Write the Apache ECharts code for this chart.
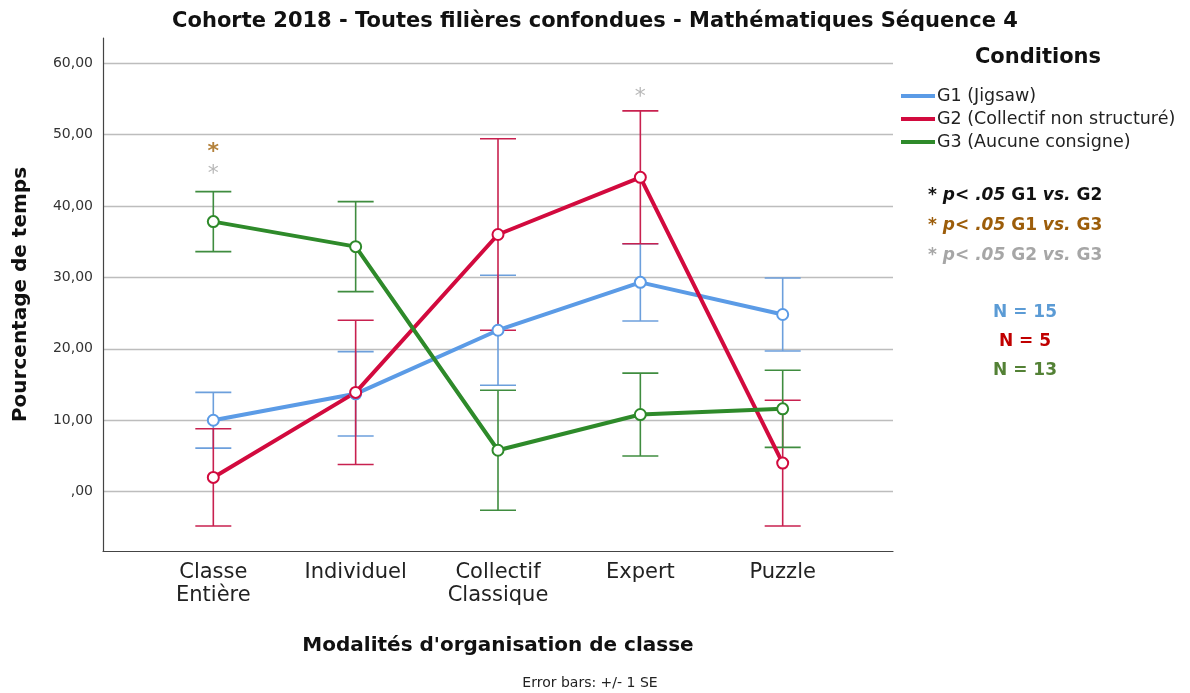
<!DOCTYPE html>
<html>
<head>
<meta charset="utf-8">
<script src="https://cdn.jsdelivr.net/npm/echarts@6/dist/echarts.min.js"></script>
<style>
  html, body { margin: 0; padding: 0; background: #fff; }
  #chart { width: 1190px; height: 693px; }
</style>
</head>
<body>
<div id="chart"></div>
<script>
// categories and tick labels
const categories = ['Classe\nEntière', 'Individuel', 'Collectif\nClassique', 'Expert', 'Puzzle'];
const yTicks = [0, 10, 20, 30, 40, 50, 60];

// means (+/- 1 SE)
const g1Mean = [10.0, 13.7, 22.6, 29.3, 24.8];
const g1Se = [3.9, 5.9, 7.7, 5.4, 5.1];
const g2Mean = [2.0, 13.9, 36.0, 44.0, 4.0];
const g2Se = [6.8, 10.1, 13.4, 9.3, 8.8];
const g3Mean = [37.8, 34.3, 5.8, 10.8, 11.6];
const g3Se = [4.2, 6.3, 8.4, 5.8, 5.4];

// significance stars
const sigX = [0, 0, 3];
const sigY = [48.4, 45.3, 56.0];
const sigColor = ['#a0620a', '#a6a6a6', '#a6a6a6'];

const groups = [
  { name: 'G1 (Jigsaw)', mean: g1Mean, se: g1Se, color: '#5b9be6', bar: '#6c9fdc' },
  { name: 'G2 (Collectif non structuré)', mean: g2Mean, se: g2Se, color: '#d20a3e', bar: '#c8214f' },
  { name: 'G3 (Aucune consigne)', mean: g3Mean, se: g3Se, color: '#2e8a2a', bar: '#3f8c3f' }
];

const chart = echarts.init(document.getElementById('chart'));
const font = 'DejaVu Sans';

const series = [];
groups.forEach(g => {
  series.push({
    name: g.name,
    type: 'line',
    data: g.mean.map((v, i) => [i, v]),
    symbol: 'emptyCircle',
    symbolSize: 11,
    lineStyle: { color: g.color, width: 4 },
    itemStyle: { color: g.color, borderWidth: 1.5 },
    z: 3
  });
  series.push({
    name: g.name + ' SE',
    type: 'custom',
    data: g.mean.map((v, i) => [i, v - g.se[i], v + g.se[i]]),
    renderItem: function (params, api) {
      const lo = api.coord([api.value(0), api.value(1)]);
      const hi = api.coord([api.value(0), api.value(2)]);
      const w = 18;
      const st = { stroke: g.bar, lineWidth: 1.6 };
      return {
        type: 'group',
        children: [
          { type: 'line', shape: { x1: lo[0], y1: lo[1], x2: hi[0], y2: hi[1] }, style: st },
          { type: 'line', shape: { x1: lo[0] - w, y1: lo[1], x2: lo[0] + w, y2: lo[1] }, style: st },
          { type: 'line', shape: { x1: hi[0] - w, y1: hi[1], x2: hi[0] + w, y2: hi[1] }, style: st }
        ]
      };
    },
    z: 2
  });
});

series.push({
  name: 'sig',
  type: 'scatter',
  symbolSize: 0,
  data: sigX.map((x, i) => ({
    value: [x, sigY[i]],
    label: { color: sigColor[i], fontWeight: i === 0 ? 'bold' : 'normal' }
  })),
  label: {
    show: true,
    position: 'inside',
    formatter: '*',
    fontSize: 22,
    fontFamily: font,
    offset: [0, 6]
  },
  silent: true,
  z: 4
});

chart.setOption({
  animation: false,
  textStyle: { fontFamily: font },
  title: {
    text: 'Cohorte 2018 - Toutes filières confondues - Mathématiques Séquence 4',
    left: 590,
    textAlign: 'center',
    top: 6,
    textStyle: { fontSize: 21, fontWeight: 'bold', color: '#111', fontFamily: font }
  },
  legend: {
    orient: 'vertical',
    left: 896,
    top: 82,
    itemWidth: 34,
    itemHeight: 4,
    itemGap: 5,
    icon: 'rect',
    data: groups.map(g => ({ name: g.name, itemStyle: { color: g.color } })),
    textStyle: { fontSize: 17.5, color: '#222', fontFamily: font, padding: [0, 0, 0, -3] }
  },
  grid: { left: 103, right: 297, top: 38, bottom: 142 },
  xAxis: {
    type: 'value',
    min: -0.775,
    max: 4.775,
    axisLine: { onZero: false, lineStyle: { color: '#444', width: 1.2 } },
    axisTick: { show: false },
    splitLine: { show: false },
    axisLabel: {
      customValues: [0, 1, 2, 3, 4],
      formatter: v => categories[Math.round(v)],
      fontSize: 21,
      lineHeight: 23,
      color: '#222',
      margin: 10
    },
    name: "Modalités d'organisation de classe",
    nameLocation: 'middle',
    nameGap: 85,
    nameTextStyle: { fontSize: 20, fontWeight: 'bold', color: '#111' }
  },
  yAxis: {
    type: 'value',
    min: -8.3,
    max: 63.5,
    axisLine: { show: true, onZero: false, lineStyle: { color: '#444', width: 1.2 } },
    axisTick: { show: false, customValues: yTicks },
    splitLine: { show: true, lineStyle: { color: '#bdbdbd', width: 1.3 } },
    axisLabel: {
      customValues: yTicks,
      formatter: v => v === 0 ? ',00' : v.toFixed(2).replace('.', ','),
      fontSize: 14,
      color: '#333',
      margin: 10
    },
    name: 'Pourcentage de temps',
    nameLocation: 'middle',
    nameGap: 72,
    nameTextStyle: { fontSize: 20, fontWeight: 'bold', color: '#111' }
  },
  graphic: [
    { type: 'text', x: 1038, y: 58, style: { text: 'Conditions', font: 'bold 21px "DejaVu Sans"', fill: '#111', align: 'center', verticalAlign: 'middle' } },
    {
      type: 'text', left: 928, top: 181,
      style: {
        text: '{b|* }{i|p< .05 }{b|G1 }{i|vs. }{b|G2}\n{ob|* }{oi|p< .05 }{ob|G1 }{oi|vs. }{ob|G3}\n{gb|* }{gi|p< .05 }{gb|G2 }{gi|vs. }{gb|G3}',
        lineHeight: 30,
        rich: {
          b: { font: 'bold 17px "DejaVu Sans"', fill: '#111', lineHeight: 30 },
          i: { font: 'italic bold 17px "DejaVu Sans"', fill: '#111', lineHeight: 30 },
          ob: { font: 'bold 17px "DejaVu Sans"', fill: '#9c5d0a', lineHeight: 30 },
          oi: { font: 'italic bold 17px "DejaVu Sans"', fill: '#9c5d0a', lineHeight: 30 },
          gb: { font: 'bold 17px "DejaVu Sans"', fill: '#a6a6a6', lineHeight: 30 },
          gi: { font: 'italic bold 17px "DejaVu Sans"', fill: '#a6a6a6', lineHeight: 30 }
        }
      }
    },
    { type: 'text', x: 1025, y: 313, style: { text: 'N = 15', font: 'bold 17px "DejaVu Sans"', fill: '#5b9bd5', align: 'center', verticalAlign: 'middle' } },
    { type: 'text', x: 1025, y: 342, style: { text: 'N = 5', font: 'bold 17px "DejaVu Sans"', fill: '#c00000', align: 'center', verticalAlign: 'middle' } },
    { type: 'text', x: 1025, y: 371, style: { text: 'N = 13', font: 'bold 17px "DejaVu Sans"', fill: '#538135', align: 'center', verticalAlign: 'middle' } },
    { type: 'text', x: 590, y: 683, style: { text: 'Error bars: +/- 1 SE', font: '14px "DejaVu Sans"', fill: '#222', align: 'center', verticalAlign: 'middle' } }
  ],
  series: series
});
</script>
</body>
</html>
